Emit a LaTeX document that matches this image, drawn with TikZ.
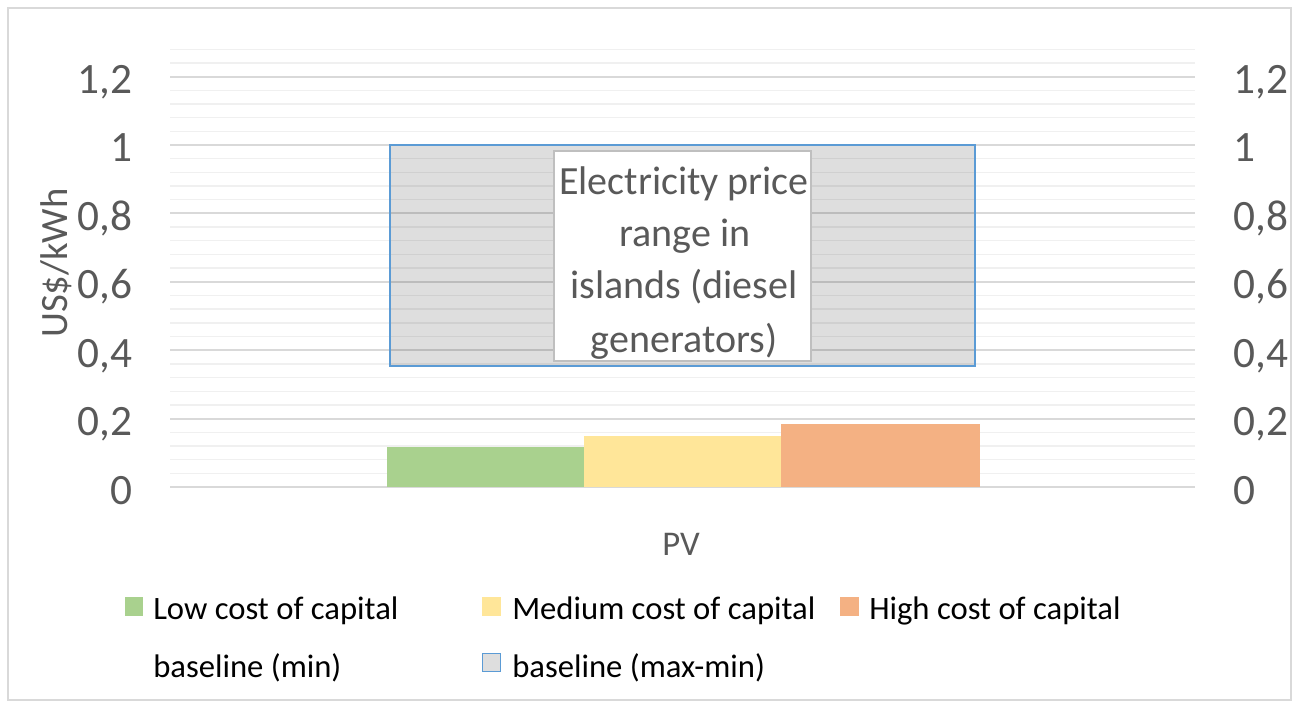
\documentclass[tikz,border=0pt]{standalone}
\usepackage{fontspec}
\setmainfont{Carlito}
\definecolor{gridmaj}{HTML}{D9D9D9}
\definecolor{gridmin}{HTML}{F0F0F0}
\definecolor{txtgrey}{HTML}{595959}
\definecolor{barlow}{HTML}{A9D18E}
\definecolor{barmed}{HTML}{FFE699}
\definecolor{barhigh}{HTML}{F4B183}
\definecolor{rangeblue}{HTML}{5B9BD5}
\definecolor{boxgrey}{HTML}{BFBFBF}
\begin{document}
\begin{tikzpicture}[x=0.75pt,y=-0.75pt,
  ticklab/.style={text=txtgrey, font=\fontsize{32.5}{38}\selectfont, inner sep=0pt},
  titlelab/.style={text=txtgrey, font=\fontsize{29}{34}\selectfont, inner sep=0pt},
  boxtext/.style={text=txtgrey, font=\fontsize{30}{35}\selectfont, inner sep=0pt, anchor=base},
  legtext/.style={text=black, font=\fontsize{24.5}{28}\selectfont, inner sep=0pt, anchor=base west},
  minorgrid/.style={gridmin, line width=1.1pt},
  majorgrid/.style={gridmaj, line width=1.5pt}]
\useasboundingbox (0,0) rectangle (1295,702);
% chart border
\draw[gridmaj, line width=0.8pt] (8,8) rectangle (1291,700);
% gridlines
\foreach \k in {1,...,32} {\draw[minorgrid] ({170},{487-13.68*\k}) -- ({1195},{487-13.68*\k});}
\foreach \k in {0,...,6} {\draw[majorgrid] ({170},{487-68.4*\k}) -- ({1195},{487-68.4*\k});}
% tick labels
\foreach \v/\lab in {0/0,1/{0,2},2/{0,4},3/{0,6},4/{0,8},5/1,6/{1,2}} {
  \node[ticklab, anchor=base east] (tl\v) at ({133},{487-68.4*\v+17}) {\lab};
  \node[ticklab, anchor=base west] (tr\v) at ({1233},{487-68.4*\v+17}) {\lab};
}
% bars
\fill[barlow] (387,487) rectangle (584,447);
\fill[barmed] (584,487) rectangle (781,436);
\fill[barhigh] (781,487) rectangle (980,424);
% range box
\draw[rangeblue, line width=1pt, fill=black, fill opacity=0.13] (390,145) rectangle (975,366);
% text box
\draw[boxgrey, line width=0.8pt, fill=white] (554,151) rectangle (811,361);
\node[boxtext] (l1) at (684,195) {Electricity price};
\node[boxtext] (l2) at (685,247) {range in};
\node[boxtext] (l3) at (684,298) {islands (diesel};
\node[boxtext] (l4) at (684,352) {generators)};
% axis titles
\node[titlelab, rotate=90, anchor=base] (ytitle) at (67,263) {US\$/kWh};
\node[text=txtgrey, font=\fontsize{26}{30}\selectfont, inner sep=0pt, anchor=base] (xtitle) at (681,555) {PV};
% legend
\fill[barlow] (125,597) rectangle (143,616);
\node[legtext] (leg1) at (153,619) {Low cost of capital};
\fill[barmed] (482,597) rectangle (501,616);
\node[legtext] (leg2) at (512,619) {Medium cost of capital};
\fill[barhigh] (840,597) rectangle (859,616);
\node[legtext] (leg3) at (869,619) {High cost of capital};
\node[legtext] (leg4) at (153,677) {baseline (min)};
\draw[rangeblue, line width=1pt, fill=black, fill opacity=0.13] (482.5,653.5) rectangle (500.5,671.5);
\node[legtext] (leg5) at (512,677) {baseline (max-min)};
\end{tikzpicture}
\end{document}
